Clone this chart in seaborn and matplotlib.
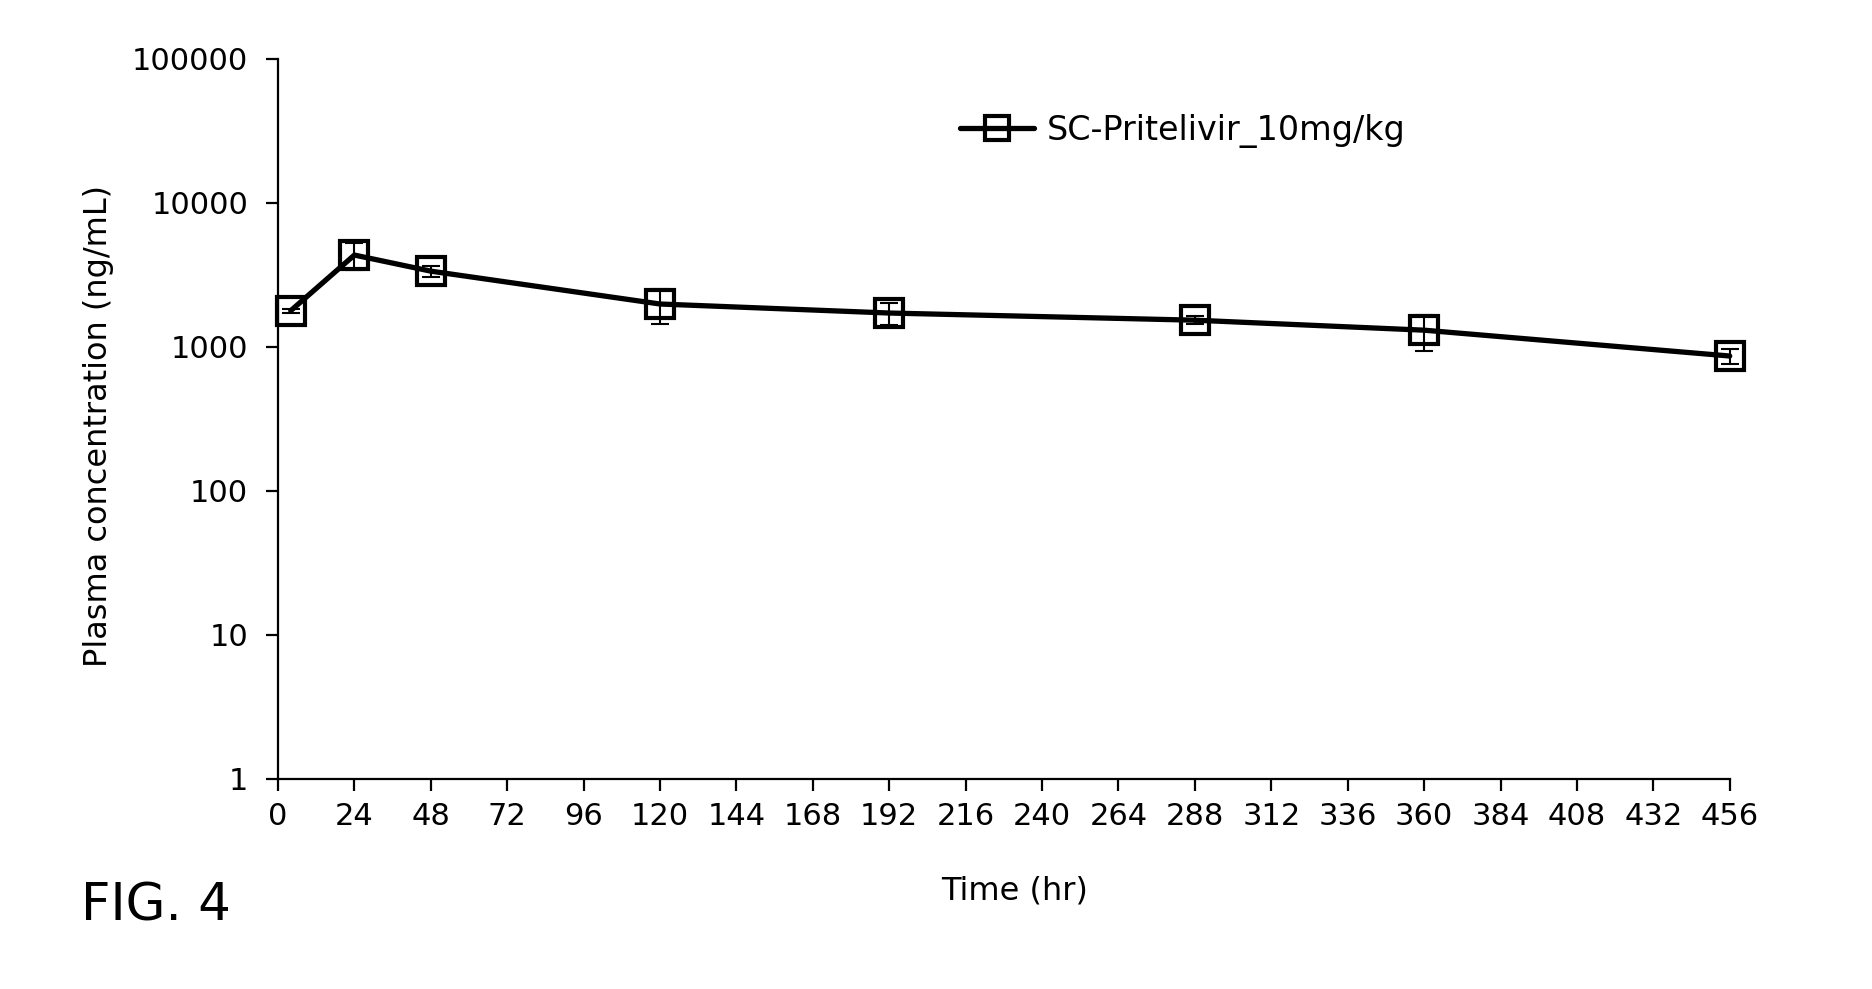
import matplotlib
matplotlib.use('Agg')
import matplotlib.pyplot as plt
import matplotlib.ticker as mticker
import numpy as np
import pandas as pd
import seaborn as sns

# Dati
time_hr = [4, 24, 48, 120, 192, 288, 360, 456]
conc = [1775, 4320, 3340, 1975, 1710, 1525, 1300, 860]
conc_sd = [60, 900, 300, 540, 300, 100, 370, 105]
series_name = 'SC-Pritelivir_10mg/kg'
x_ticks = list(range(0, 457, 24))
y_ticks = [1, 10, 100, 1000, 10000, 100000]

df = pd.DataFrame({'Time': time_hr, 'Conc': conc, 'SD': conc_sd, 'Serie': series_name})

sns.set_style('white')
plt.rcParams['font.family'] = ['DejaVu Sans']
plt.rcParams['text.color'] = 'black'
plt.rcParams['axes.labelcolor'] = 'black'

fig = plt.figure(figsize=(18.72, 9.89), dpi=100)
ax = fig.add_axes([0.1485, 0.2127, 0.924 - 0.1485, 0.9408 - 0.2127])

# Barre di errore
ax.errorbar(df['Time'], df['Conc'], yerr=df['SD'], fmt='none', ecolor='black',
            elinewidth=1.5, capsize=6.5, capthick=1.5, zorder=2, clip_on=False)

# Linea con marcatori
sns.lineplot(data=df, x='Time', y='Conc', hue='Serie', palette=['black'], ax=ax,
             marker='s', markersize=20, markerfacecolor='none', markeredgecolor='black',
             markeredgewidth=3.0, linewidth=3.8, zorder=3, clip_on=False)

ax.set_yscale('log')
ax.set_ylim(1, 100000)
ax.set_xlim(0, 456)
ax.set_xticks(x_ticks)
ax.set_yticks(y_ticks)
ax.yaxis.set_major_formatter(mticker.FuncFormatter(lambda v, p: f'{int(round(v))}'))
ax.yaxis.set_minor_locator(mticker.NullLocator())

for s in ['top', 'right']:
    ax.spines[s].set_visible(False)
for s in ['left', 'bottom']:
    ax.spines[s].set_linewidth(1.6)
    ax.spines[s].set_color('black')

ax.tick_params(axis='both', which='major', direction='out', length=8.5, width=1.6,
               labelsize=22, colors='black', left=True, bottom=True)
ax.tick_params(axis='x', pad=8)
ax.tick_params(axis='y', pad=13)

ax.set_xlabel('Time (hr)', fontsize=23)
ax.set_ylabel('Plasma concentration (ng/mL)', fontsize=23)
ax.xaxis.set_label_coords(0.5076, -0.135)
ax.yaxis.set_label_coords(-0.113, 0.49)

handles, labels = ax.get_legend_handles_labels()
leg = ax.legend(handles, labels, loc='center left', bbox_to_anchor=(0.47, 0.9), frameon=False,
                fontsize=24, handlelength=2.2, handletextpad=0.4, borderpad=0, borderaxespad=0,
                markerscale=0.85)

fig.text(0.0435, 0.083, 'FIG. 4', fontsize=37, va='center', ha='left', color='black')

plt.savefig('out.png', dpi=100)
